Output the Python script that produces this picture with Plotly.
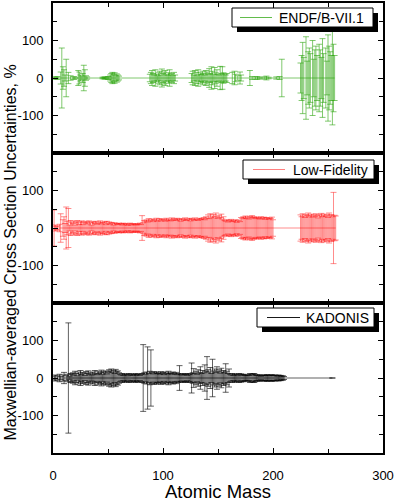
import plotly.graph_objects as go
from plotly.subplots import make_subplots

# ---------------- data ----------------
endf_mass = [1, 3, 4,
             7, 8, 9, 10, 11, 12, 14, 16,
             19, 20, 23, 24, 25, 26, 27, 28, 29, 30, 31,
             45, 46, 47, 48, 50, 51, 52, 53, 54, 55, 56, 57, 58, 59, 60,
             88, 89, 90, 91, 92, 93, 94, 95, 96, 97, 98, 99, 100, 101, 102, 103, 104, 105, 106, 107, 108, 109, 110, 111,
             126, 127, 128, 129, 130, 131, 132, 133, 134, 135, 136, 137, 138, 139, 140, 141, 142, 143, 144, 145,
             146, 147, 148, 149, 150, 151, 152, 153, 154, 155, 156, 157, 158,
             163, 165, 166, 168, 170, 171,
             179, 181, 184, 186, 188, 192, 194, 196,
             203, 206, 208,
             225, 226, 227, 228, 230, 231, 232, 233, 234, 236, 237, 238, 239, 240,
             242, 243, 244, 245, 246, 248, 249, 250, 251, 252, 253, 254, 255, 256]
endf_unc = [3, 2, 4,
            16, 80, 30, 22, 8, 50, 15, 6,
            4, 2, 20, 16, 8, 5, 12, 34, 22, 6, 3,
            2, 2, 3, 2, 4, 3, 8, 12, 15, 10, 14, 6, 11, 8, 5,
            10, 15, 20, 12, 8, 22, 10, 6, 14, 18, 8, 24, 12, 16, 20, 10, 7, 14, 22, 9, 12, 6, 15, 8,
            12, 18, 8, 20, 15, 6, 22, 10, 14, 9, 18, 12, 8, 20, 16, 10, 25, 12, 30, 18,
            9, 28, 14, 22, 10, 8, 31, 12, 30, 14, 10, 8, 12,
            15, 18, 10, 6, 16, 8,
            20, 4, 3, 4, 2, 3, 5, 2,
            3, 4, 50,
            40, 60, 95, 55, 110, 45, 70, 80, 65, 100, 50, 75, 85, 60,
            90, 75, 55, 105, 65, 80, 45, 115, 85, 70, 60, 125, 90, 60]

lf_mass = [1, 2, 3, 4, 6, 7, 9, 10, 11, 12, 13, 14, 15, 16,
           17, 18, 19, 20, 21, 22, 23, 24, 25, 26, 27, 28, 29, 30,
           31, 32, 33, 34, 35, 36, 37, 38, 39, 40, 41, 42, 43, 44, 45,
           46, 47, 48, 49, 50, 51, 52, 53, 54, 55, 56, 57, 58, 59, 60,
           61, 62, 63, 64, 65, 66, 67, 68, 69, 70, 71, 72, 73, 74, 75, 76, 77, 78, 79, 80,
           81, 82, 83, 84, 85, 86, 87, 88, 89, 90, 91, 92, 93, 94, 95, 96, 97, 98, 99, 100,
           101, 102, 103, 104, 105, 106, 107, 108, 109, 110, 111, 112, 113, 114, 115, 116, 117, 118, 119, 120,
           121, 122, 123, 124, 125, 126, 127, 128, 129, 130, 131, 132, 133, 134, 135,
           136, 137, 138, 139, 140, 141, 142, 143, 144, 145, 146, 147, 148, 149, 150, 151, 152, 153, 154, 155,
           156, 157, 158, 159, 160, 161, 162, 163, 164, 165, 166, 167, 168, 169, 170,
           171, 172, 173, 174, 175, 176, 177, 178, 179, 180, 181, 182, 183, 184, 185,
           186, 187, 188, 189, 190, 191, 192, 193, 194, 195, 196, 197, 198, 199, 200,
           225, 226, 227, 228, 229, 230, 231, 232, 233, 234, 235, 236, 237, 238, 239, 240,
           241, 242, 243, 244, 245, 246, 247, 248, 249, 250, 251, 252, 253, 254, 255, 256, 257]
lf_unc = [48, 8, 4, 6, 10, 38, 22, 30, 12, 56, 18, 52, 8, 20,
          15, 12, 18, 8, 16, 20, 14, 10, 17, 19, 9, 15, 13, 18,
          16, 11, 19, 14, 8, 17, 15, 12, 18, 10, 16, 13, 19, 11, 15,
          14, 17, 9, 18, 12, 16, 10, 15, 13, 8, 14, 11, 12, 9, 13,
          10, 12, 8, 13, 11, 9, 12, 7, 10, 13, 8, 11, 12, 9, 10, 8, 12, 10, 13, 9,
          33, 14, 20, 18, 22, 16, 25, 19, 21, 24, 17, 23, 20, 26, 18, 22, 25, 19, 24, 21,
          23, 18, 26, 20, 24, 22, 19, 27, 21, 25, 23, 20, 26, 22, 24, 18, 25, 21, 23, 27,
          20, 24, 22, 26, 19, 25, 23, 21, 27, 22, 24, 20, 26, 23, 25,
          24, 28, 22, 30, 26, 35, 25, 38, 29, 32, 36, 27, 40, 31, 26, 34, 28, 37, 24, 30,
          20, 18, 22, 16, 21, 19, 23, 17, 20, 18, 22, 15, 19, 21, 17,
          28, 25, 30, 27, 32, 26, 29, 24, 31, 27, 33, 28, 30, 25, 29,
          26, 28, 24, 30, 25, 27, 29, 23, 28, 26, 24, 27, 25, 29, 22,
          35, 30, 38, 32, 28, 36, 33, 40, 30, 34, 37, 29, 35, 31, 38, 33,
          27, 36, 32, 39, 30, 34, 37, 31, 35, 28, 40, 33, 36, 30, 95, 34, 32]

kad_mass = [1, 2, 4, 6, 7, 9, 10, 12, 13, 14, 15, 16,
            17, 18, 19, 20, 21, 22, 23, 24, 25, 26, 27, 28, 29, 30, 31, 32, 33, 34, 35,
            36, 37, 38, 39, 40, 41, 42, 43, 44, 45, 46, 47, 48, 49, 50,
            51, 52, 53, 54, 55, 56, 57, 58, 59, 60,
            61, 62, 63, 64, 65, 66, 67, 68, 69, 70, 71, 72, 73, 74, 75, 76, 77, 78, 79, 80,
            81, 82, 83, 84, 85, 86, 87, 88, 89, 90, 91, 92, 93, 94, 95,
            96, 97, 98, 99, 100, 101, 102, 103, 104, 105, 106, 107, 108, 109, 110, 111, 112, 113, 114, 115,
            116, 117, 118, 119, 120, 121, 122, 123, 124, 125, 126, 127, 128, 129, 130, 131, 132, 133, 134, 135,
            136, 137, 138, 139, 140, 141, 142, 143, 144, 145, 146, 147, 148, 149, 150,
            151, 152, 153, 154, 155, 156, 157, 158, 159, 160,
            161, 162, 163, 164, 165, 166, 167, 168, 169, 170, 171, 172, 173, 174, 175,
            176, 177, 178, 179, 180, 181, 182, 183, 184, 185, 186, 187, 188, 189, 190,
            191, 192, 193, 194, 195, 196, 197, 198, 199, 200, 201, 202, 203, 204, 205, 206, 207, 208, 209, 210,
            254]
kad_unc = [5, 8, 6, 10, 4, 8, 15, 6, 10, 147, 5, 12,
           10, 14, 8, 18, 12, 6, 16, 11, 20, 9, 15, 13, 7, 17, 12, 19, 10, 14, 8,
           16, 11, 20, 13, 9, 18, 12, 15, 21, 10, 17, 14, 19, 11, 16,
           22, 18, 24, 15, 20, 12, 23, 17, 19, 14,
           10, 8, 12, 7, 11, 9, 10, 6, 12, 8, 11, 9, 7, 10, 12, 8, 9, 11, 7, 10,
           12, 89, 14, 10, 16, 83, 12, 18, 75, 15, 11, 17, 13, 16, 12,
           14, 10, 17, 12, 15, 9, 16, 13, 11, 18, 12, 14, 10, 16, 13, 11, 15, 9, 12, 33,
           10, 8, 12, 9, 11, 10, 7, 12, 9, 11, 40, 14, 25, 12, 18, 10, 22, 15, 30, 12,
           20, 14, 35, 18, 57, 22, 16, 28, 12, 50, 19, 24, 15, 30, 18,
           22, 13, 26, 16, 20, 14, 38, 18, 12, 24,
           10, 8, 12, 7, 11, 9, 10, 6, 12, 8, 11, 9, 10, 7, 8,
           6, 9, 7, 12, 10, 8, 11, 12, 9, 7, 8, 6, 9, 5, 7,
           6, 8, 7, 9, 8, 6, 7, 8, 9, 7, 6, 8, 7, 5, 8, 6, 7, 5, 6, 4,
           0]

series_names = ["ENDF/B-VII.1", "Low-Fidelity", "KADONIS"]
x_ticks = [0, 100, 200, 300]
x_ticktext = ["0", "100", "200", "300"]
y_ticks = [-100, 0, 100]
y_ticktext = ["-100", "0", "100"]

# ---------------- layout helpers ----------------
W, H = 395, 501
ML, MR, MT, MB = 53, 12, 3, 48
PW, PH = W - ML - MR, H - MT - MB
FONT = "Liberation Sans, Arial, Helvetica, sans-serif"


def px(x):
    return (x - ML) / PW


def py(y):
    return (H - MB - y) / PH


colors = ["rgba(45,165,15,0.6)", "rgba(255,0,0,0.45)", "rgba(0,0,0,0.62)"]
legend_line_colors = ["rgba(45,165,15,0.75)", "rgba(255,0,0,0.5)", "rgba(0,0,0,0.9)"]

fig = make_subplots(rows=3, cols=1, shared_xaxes=True, vertical_spacing=0)

data = [(endf_mass, endf_unc), (lf_mass, lf_unc), (kad_mass, kad_unc)]
for i, (m, u) in enumerate(data):
    vals = [0.0 for _ in m]
    fig.add_trace(go.Scatter(
        x=m, y=vals, mode="lines", name=series_names[i], showlegend=False,
        line=dict(color=colors[i], width=1),
        error_y=dict(type="data", array=u, visible=True, color=colors[i],
                     thickness=1, width=3),
    ), row=i + 1, col=1)

axis_common = dict(showline=True, linecolor="black", linewidth=1.6, mirror="allticks",
                   ticks="inside", ticklen=5, tickwidth=1.3, tickcolor="black",
                   showgrid=False, zeroline=False, automargin=False,
                   tickfont=dict(family=FONT, size=13, color="black"))
fig.update_xaxes(range=[0, 300], tickvals=x_ticks, ticktext=x_ticktext, ticklabelstandoff=10,
                 minor=dict(tickvals=[50, 150, 250], ticks="inside", ticklen=4,
                            tickwidth=1.3, tickcolor="black"),
                 **axis_common)
fig.update_yaxes(range=[-200, 200], tickvals=y_ticks, ticktext=y_ticktext, ticklabelstandoff=5,
                 minor=dict(tickvals=[-150, -50, 50, 150], ticks="inside", ticklen=4,
                            tickwidth=1.3, tickcolor="black"),
                 **axis_common)

shapes = []
annotations = []
# legend boxes: (left, top, right, bottom, line x0, line x1, text x) in pixels
legend_boxes = [
    (232, 8, 373, 27, 240, 272, 277),
    (243, 160, 374, 179, 253, 285, 291),
    (257, 308, 374, 327, 267, 300, 304),
]
for i, (l, t, r, b, lx0, lx1, tx) in enumerate(legend_boxes):
    shapes.append(dict(type="rect", xref="paper", yref="paper",
                       x0=px(l + 5), x1=px(r + 5), y0=py(b + 5), y1=py(t + 5),
                       fillcolor="black", line=dict(width=0), layer="above"))
    shapes.append(dict(type="rect", xref="paper", yref="paper",
                       x0=px(l), x1=px(r), y0=py(b), y1=py(t),
                       fillcolor="white", line=dict(color="black", width=1), layer="above"))
    yc = (t + b) / 2
    shapes.append(dict(type="line", xref="paper", yref="paper",
                       x0=px(lx0), x1=px(lx1), y0=py(yc), y1=py(yc),
                       line=dict(color=legend_line_colors[i], width=1), layer="above"))
    annotations.append(dict(text=series_names[i], xref="paper", yref="paper",
                            x=px(tx), y=py(yc + 0.5), xanchor="left", yanchor="middle",
                            showarrow=False, font=dict(family=FONT, size=14, color="black")))

annotations.append(dict(text="Atomic Mass", xref="paper", yref="paper",
                        x=0.5, y=py(491), xanchor="center", yanchor="middle",
                        showarrow=False, font=dict(family=FONT, size=18.5, color="black")))
annotations.append(dict(text="Maxwellian-averaged Cross Section Uncertainties, %",
                        xref="paper", yref="paper", textangle=-90,
                        x=px(9.5), y=py(253), xanchor="center", yanchor="middle",
                        showarrow=False, font=dict(family=FONT, size=16, color="black")))

fig.update_layout(width=W, height=H, margin=dict(l=ML, r=MR, t=MT, b=MB, pad=0),
                  paper_bgcolor="white", plot_bgcolor="white",
                  showlegend=False, shapes=shapes, annotations=annotations,
                  font=dict(family=FONT, color="black"))

fig.write_html("out.html", config={"displayModeBar": False},
               post_script="document.body.style.margin='0px';"
                           "document.documentElement.style.overflow='hidden';")
